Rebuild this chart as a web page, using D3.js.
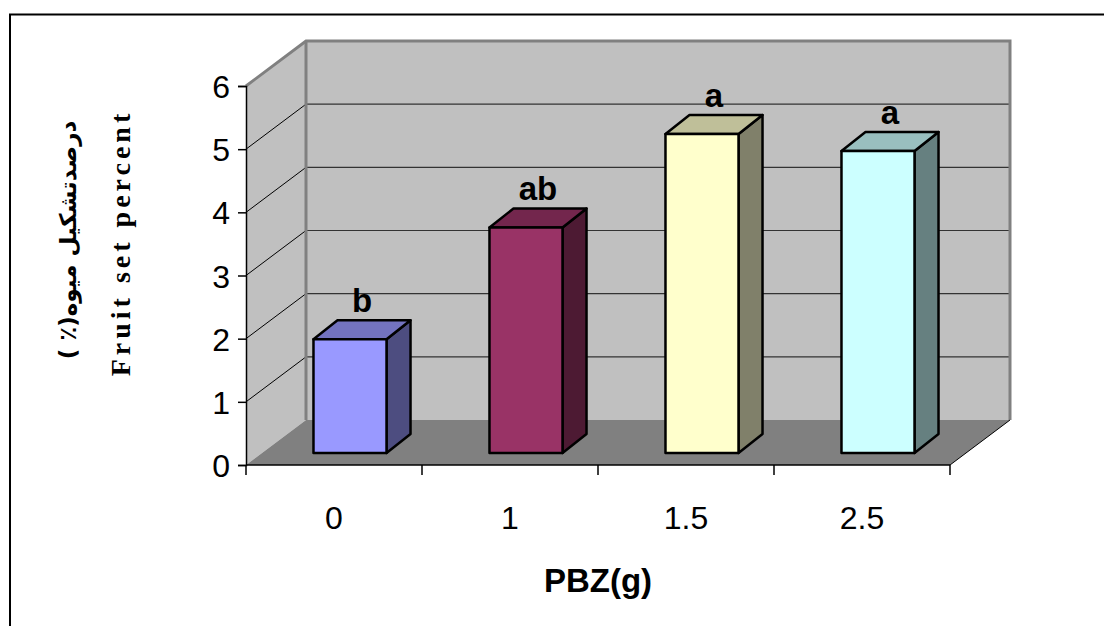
<!DOCTYPE html>
<html>
<head>
<meta charset="utf-8">
<script src="https://cdn.jsdelivr.net/npm/d3@7"></script>
<style>
  body { margin: 0; background: #fff; }
  svg { display: block; }
</style>
</head>
<body>
<div id="chart"></div>
<script>
// Data
const categories = ["0", "1", "1.5", "2.5"];
const values = [1.8, 3.57, 5.05, 4.78];
const letters = ["b", "ab", "a", "a"];
const yTicks = [0, 1, 2, 3, 4, 5, 6];
const frontColors = ["#9999ff", "#993366", "#ffffcc", "#ccffff"];
const topColors = ["#7373bf", "#73264d", "#bfbf99", "#99bfbf"];
const sideColors = ["#4d4d80", "#4d1a33", "#80806a", "#668080"];

const W = 1104, H = 626;
const wall = {dx: 60, dy: -45};       // depth of the 3d box
const barOff = {dx: 16, dy: -12};     // bar front face offset from front plane
const barDepth = {dx: 24, dy: -19};   // bar depth

const svg = d3.select("#chart").append("svg")
    .attr("width", W)
    .attr("height", H);

// outer frame
svg.append("path")
    .attr("d", "M10,640 L10,14.5 L1110,14.5")
    .attr("fill", "none")
    .attr("stroke", "#000")
    .attr("stroke-width", 2);

const x = d3.scaleBand().domain(categories).range([246, 950])
    .paddingInner(0.585).paddingOuter(0.2925);
const y = d3.scaleLinear().domain([0, 6]).range([465, 86]);

const x0 = 246, x1 = 950, yTop = y(6), yBase = y(0);

// walls
svg.append("path")
    .attr("d", `M${x0},${yBase} L${x0},${yTop} L${x0 + wall.dx},${yTop + wall.dy} L${x0 + wall.dx},${yBase + wall.dy} Z`)
    .attr("fill", "#c0c0c0");
svg.append("rect")
    .attr("x", x0 + wall.dx).attr("y", yTop + wall.dy)
    .attr("width", x1 - x0).attr("height", yBase - yTop)
    .attr("fill", "#c0c0c0");
// floor
svg.append("path")
    .attr("d", `M${x0},${yBase} L${x0 + wall.dx},${yBase + wall.dy} L${x1 + wall.dx},${yBase + wall.dy} L${x1},${yBase} Z`)
    .attr("fill", "#808080");

// gridlines
const grid = yTicks.filter(d => d > 0 && d < 6);
svg.selectAll(".gridBack").data(grid).enter().append("line")
    .attr("x1", x0 + wall.dx).attr("x2", x1 + wall.dx)
    .attr("y1", d => y(d) + wall.dy).attr("y2", d => y(d) + wall.dy)
    .attr("stroke", "#333").attr("stroke-width", 1.2);
svg.selectAll(".gridSide").data(grid).enter().append("line")
    .attr("x1", x0).attr("x2", x0 + wall.dx)
    .attr("y1", d => y(d)).attr("y2", d => y(d) + wall.dy)
    .attr("stroke", "#000").attr("stroke-width", 1);

// wall edges
svg.append("path")
    .attr("d", `M${x0},${yTop} L${x0 + wall.dx},${yTop + wall.dy} L${x1 + wall.dx},${yTop + wall.dy} L${x1 + wall.dx},${yBase + wall.dy}`)
    .attr("fill", "none").attr("stroke", "#808080").attr("stroke-width", 3);
svg.append("line")
    .attr("x1", x0 + wall.dx).attr("x2", x0 + wall.dx)
    .attr("y1", yTop + wall.dy).attr("y2", yBase + wall.dy)
    .attr("stroke", "#808080").attr("stroke-width", 3);
svg.append("line")
    .attr("x1", x1).attr("y1", yBase)
    .attr("x2", x1 + wall.dx).attr("y2", yBase + wall.dy)
    .attr("stroke", "#000").attr("stroke-width", 1);

// bars
const bars = svg.selectAll(".bar").data(values).enter().append("g").attr("class", "bar");
const bw = x.bandwidth();
function face(i, kind) {
  const v = values[i];
  const l = x(categories[i]) + barOff.dx, r = l + bw;
  const t = y(v) + barOff.dy, b = yBase + barOff.dy;
  const dx = barDepth.dx, dy = barDepth.dy;
  if (kind === "front") return `M${l},${t} L${r},${t} L${r},${b} L${l},${b} Z`;
  if (kind === "top") return `M${l},${t} L${l + dx},${t + dy} L${r + dx},${t + dy} L${r},${t} Z`;
  return `M${r},${t} L${r + dx},${t + dy} L${r + dx},${b + dy} L${r},${b} Z`;
}
bars.append("path").attr("d", (d, i) => face(i, "side")).attr("fill", (d, i) => sideColors[i]);
bars.append("path").attr("d", (d, i) => face(i, "top")).attr("fill", (d, i) => topColors[i]);
bars.append("path").attr("d", (d, i) => face(i, "front")).attr("fill", (d, i) => frontColors[i]);
bars.selectAll("path")
    .attr("stroke", "#000").attr("stroke-width", 2.5).attr("stroke-linejoin", "round");

// significance letters
bars.append("text")
    .attr("x", (d, i) => x(categories[i]) + barOff.dx + bw / 2 + barDepth.dx / 2)
    .attr("y", (d, i) => y(d) + barOff.dy + barDepth.dy - 8)
    .attr("text-anchor", "middle")
    .style("font-family", "Arial, 'Liberation Sans', sans-serif")
    .style("font-weight", "bold")
    .style("font-size", "33px")
    .text((d, i) => letters[i]);

// y axis
const yAxis = svg.append("g")
    .attr("transform", `translate(${x0},0)`)
    .call(d3.axisLeft(y).tickValues(yTicks).tickSize(8).tickPadding(8).tickFormat(d3.format("d")));
yAxis.select(".domain").attr("stroke", "#000").attr("stroke-width", 1.5);
yAxis.selectAll(".tick line").attr("stroke", "#000").attr("stroke-width", 1.5);
yAxis.selectAll(".tick text")
    .attr("dy", "0.36em")
    .style("font-family", "Arial, 'Liberation Sans', sans-serif")
    .style("font-size", "32px")
    .attr("fill", "#000");

// x axis
const xAxis = svg.append("g")
    .attr("transform", `translate(0,${yBase})`)
    .call(d3.axisBottom(x).tickSize(0).tickPadding(52));
xAxis.select(".domain").remove();
xAxis.selectAll(".tick text")
    .attr("dy", "0.36em")
    .style("font-family", "Arial, 'Liberation Sans', sans-serif")
    .style("font-size", "32px")
    .attr("fill", "#000");
svg.append("line")
    .attr("x1", x0).attr("x2", x1).attr("y1", yBase).attr("y2", yBase)
    .attr("stroke", "#000").attr("stroke-width", 1.5);
const bounds = categories.map(c => x(c) - x.step() * x.paddingInner() / 2).concat([x1]);
svg.selectAll(".xtick").data(bounds).enter().append("line")
    .attr("x1", d => d).attr("x2", d => d)
    .attr("y1", yBase).attr("y2", yBase + 10)
    .attr("stroke", "#000").attr("stroke-width", 1.5);

// axis titles
svg.append("text")
    .attr("x", 598).attr("y", 592)
    .attr("text-anchor", "middle")
    .style("font-family", "Arial, 'Liberation Sans', sans-serif")
    .style("font-weight", "bold")
    .style("font-size", "33px")
    .text("PBZ(g)");

svg.append("text")
    .attr("transform", "translate(130,243) rotate(-90)")
    .attr("text-anchor", "middle")
    .style("font-family", "'Liberation Serif', 'Times New Roman', serif")
    .style("font-weight", "bold")
    .style("font-size", "28px")
    .style("letter-spacing", "4px")
    .text("Fruit set percent");

svg.append("text")
    .attr("transform", "translate(76,240) rotate(-90)")
    .attr("text-anchor", "middle")
    .attr("direction", "rtl")
    .style("font-family", "'DejaVu Sans', 'Noto Sans', sans-serif")
    .style("font-weight", "bold")
    .style("font-size", "23px")
    .text("درصدتشکیل میوه(٪ )");
</script>
</body>
</html>
